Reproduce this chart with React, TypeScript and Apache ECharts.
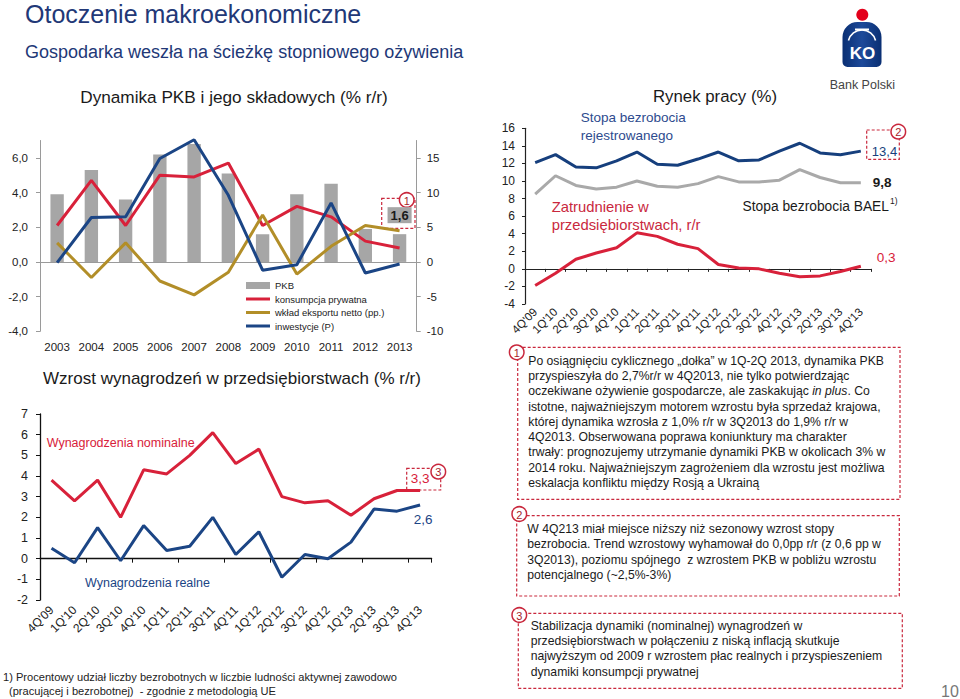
import React, { useEffect, useRef } from 'react';
import * as echarts from 'echarts';

// ---------- DATA ----------
const years = ['2003', '2004', '2005', '2006', '2007', '2008', '2009', '2010', '2011', '2012', '2013'];
const gdp = [3.9, 5.3, 3.6, 6.2, 6.8, 5.1, 1.6, 3.9, 4.5, 1.9, 1.6];
const consumption = [2.1, 4.7, 2.1, 5.0, 4.9, 5.7, 2.1, 3.2, 2.6, 1.2, 0.8];
const netExports = [1.1, -0.9, 1.1, -1.1, -1.9, -0.6, 2.7, -0.7, 0.9, 2.1, 1.8];
const investment = [-0.1, 6.4, 6.5, 14.9, 17.6, 9.6, -1.2, -0.4, 8.5, -1.6, -0.3];

const quarters = ["4Q'09", "1Q'10", "2Q'10", "3Q'10", "4Q'10", "1Q'11", "2Q'11", "3Q'11", "4Q'11", "1Q'12", "2Q'12", "3Q'12", "4Q'12", "1Q'13", "2Q'13", "3Q'13", "4Q'13"];
const wagesNominal = [3.8, 2.8, 3.8, 2.0, 4.3, 4.1, 5.0, 6.1, 4.6, 5.3, 3.0, 2.7, 2.8, 2.1, 2.9, 3.3, 3.3];
const wagesReal = [0.5, -0.2, 1.5, -0.1, 1.6, 0.4, 0.6, 2.0, 0.2, 1.3, -0.9, 0.2, 0.0, 0.8, 2.4, 2.3, 2.6];

const unempRegistered = [12.1, 13.0, 11.6, 11.5, 12.3, 13.3, 11.9, 11.8, 12.5, 13.3, 12.3, 12.4, 13.4, 14.3, 13.2, 13.0, 13.4];
const unempBAEL = [8.5, 10.6, 9.5, 9.1, 9.3, 10.0, 9.4, 9.3, 9.7, 10.5, 9.9, 9.9, 10.1, 11.3, 10.4, 9.8, 9.8];
const employment = [-1.9, -0.5, 1.1, 1.8, 2.4, 4.1, 3.7, 2.8, 2.3, 0.5, 0.1, 0.0, -0.5, -0.9, -0.8, -0.3, 0.3];

const box1Lines = [
  'Po osiągnięciu cyklicznego „dołka” w 1Q-2Q 2013, dynamika PKB',
  'przyspieszyła do 2,7%r/r w 4Q2013, nie tylko potwierdzając',
  'oczekiwane ożywienie gospodarcze, ale zaskakując {i|in plus}. Co',
  'istotne, najważniejszym motorem wzrostu była sprzedaż krajowa,',
  'której dynamika wzrosła z 1,0% r/r w 3Q2013 do 1,9% r/r w',
  '4Q2013. Obserwowana poprawa koniunktury ma charakter',
  'trwały: prognozujemy utrzymanie dynamiki PKB w okolicach 3% w',
  '2014 roku. Najważniejszym zagrożeniem dla wzrostu jest możliwa',
  'eskalacja konfliktu między Rosją a Ukrainą',
];
const box2Lines = [
  'W 4Q213 miał miejsce niższy niż sezonowy wzrost stopy',
  'bezrobocia. Trend wzrostowy wyhamował do 0,0pp r/r (z 0,6 pp w',
  '3Q2013), poziomu spójnego  z wzrostem PKB w pobliżu wzrostu',
  'potencjalnego (~2,5%-3%)',
];
const box3Lines = [
  'Stabilizacja dynamiki (nominalnej) wynagrodzeń w',
  'przedsiębiorstwach w połączeniu z niską inflacją skutkuje',
  'najwyższym od 2009 r wzrostem płac realnych i przyspieszeniem',
  'dynamiki konsumpcji prywatnej',
];

// ---------- STYLE ----------
const FONT = '"Liberation Sans", Arial, sans-serif';
const NAVY = '#223877';
const RED = '#d8213a';
const BLUE = '#1b4585';
const GOLD = '#b28e28';
const GREY = '#a6a6a6';
const ANN = '#c9283d';
const TXT = '#1a1a1a';
const LINE_ICON = 'path://M0,0 L24,0 L24,3 L0,3 Z';

const fmt1 = (v: number) => v.toFixed(1).replace('.', ',');

const lastLabel = (arr: number[], label: any) =>
  arr.map((v, i) => (i === arr.length - 1 ? { value: v, label: { show: true, ...label } } : v));

const text = (x: number, y: number, t: string, o: any = {}) => ({
  type: 'text',
  x,
  y,
  silent: true,
  style: {
    text: t,
    fontFamily: FONT,
    fontSize: 12,
    fill: TXT,
    align: 'left',
    verticalAlign: 'middle',
    ...o,
  },
});

const dashedRect = (x: number, y: number, w: number, h: number) => ({
  type: 'rect',
  silent: true,
  shape: { x, y, width: w, height: h },
  style: { fill: 'none', stroke: ANN, lineWidth: 1.2, lineDash: [3, 2] },
});

const marker = (cx: number, cy: number, n: string) => ({
  type: 'group',
  silent: true,
  children: [
    { type: 'circle', shape: { cx, cy, r: 7.3 }, style: { fill: '#fff', stroke: ANN, lineWidth: 1.5 } },
    text(cx, cy + 0.5, n, { fontSize: 11, fill: '#a51d2d', align: 'center' }),
  ],
});

const BODY = 12.2;
const textBlock = (x: number, yTop: number, lines: string[]) => ({
  type: 'text',
  x,
  y: yTop,
  silent: true,
  style: {
    text: lines.join('\n'),
    fontFamily: FONT,
    fontSize: BODY,
    lineHeight: 15.3,
    fill: TXT,
    align: 'left',
    verticalAlign: 'top',
    rich: {
      i: { fontFamily: FONT, fontSize: BODY, lineHeight: 15.3, fontStyle: 'italic', fill: TXT },
    },
  },
});

const axisLabelBase = { fontFamily: FONT, fontSize: 11.5, color: '#222' };

const labelledLine = (name: string, xi: number, yi: number, color: string, data: any[]) => ({
  name, type: 'line', xAxisIndex: xi, yAxisIndex: yi,
  symbol: 'circle', symbolSize: 0, showSymbol: true, clip: false,
  lineStyle: { color, width: 3 }, itemStyle: { color },
  data,
});

function buildOption(): any {
  return {
    animation: false,
    backgroundColor: '#ffffff',
    textStyle: { fontFamily: FONT },
    grid: [
      { left: 40, top: 140.5, width: 376.7, height: 190.8 },
      { left: 40, top: 414, width: 391.6, height: 186 },
      { left: 525, top: 128.3, width: 346, height: 175.7 },
    ],
    legend: {
      left: 246,
      top: 279.5,
      padding: 0,
      orient: 'vertical',
      itemWidth: 24,
      itemHeight: 7,
      itemGap: 1.5,
      selectedMode: false,
      textStyle: { fontFamily: FONT, fontSize: 9.5, color: '#222', lineHeight: 12 },
      data: [
        { name: 'PKB', icon: 'rect' },
        { name: 'konsumpcja prywatna', icon: LINE_ICON },
        { name: 'wkład eksportu netto (pp.)', icon: LINE_ICON },
        { name: 'inwestycje (P)', icon: LINE_ICON },
      ],
    },
    xAxis: [
      {
        type: 'category', gridIndex: 0, data: years, position: 'bottom',
        axisLine: { show: false, onZero: false }, axisTick: { show: false },
        axisLabel: { ...axisLabelBase, margin: 10, interval: 0 },
      },
      {
        type: 'category', gridIndex: 0, data: years, position: 'top',
        axisLine: { show: true, onZero: true, lineStyle: { color: '#9a9a9a', width: 1 } },
        axisTick: { show: false }, axisLabel: { show: false },
      },
      {
        type: 'category', gridIndex: 1, data: quarters, position: 'bottom',
        axisLine: { show: false, onZero: false }, axisTick: { show: false },
        axisLabel: { ...axisLabelBase, fontSize: 12, rotate: 45, margin: 8, interval: 0 },
      },
      {
        type: 'category', gridIndex: 1, data: quarters, position: 'top',
        axisLine: { show: true, onZero: true, lineStyle: { color: '#111', width: 1.3 } },
        axisTick: { show: true, inside: true, length: 4, lineStyle: { color: '#111' } },
        axisLabel: { show: false },
      },
      {
        type: 'category', gridIndex: 2, data: quarters, position: 'bottom',
        axisLine: { show: true, onZero: true, lineStyle: { color: '#222', width: 1.2 } },
        axisTick: { show: true, length: 3, lineStyle: { color: '#222' } },
        axisLabel: { ...axisLabelBase, rotate: 45, margin: 6, interval: 0 },
      },
    ],
    yAxis: [
      {
        type: 'value', gridIndex: 0, min: -4, max: 7, interval: 2, position: 'left',
        axisLine: { show: true, lineStyle: { color: '#9a9a9a' } },
        axisTick: { show: true, length: 4, lineStyle: { color: '#9a9a9a' } },
        splitLine: { show: false },
        axisLabel: { ...axisLabelBase, margin: 12, showMaxLabel: false, formatter: (v: number) => fmt1(v) },
      },
      {
        type: 'value', gridIndex: 0, min: -10, max: 17.5, interval: 5, position: 'right',
        axisLine: { show: true, lineStyle: { color: '#9a9a9a' } },
        axisTick: { show: true, length: 4, lineStyle: { color: '#9a9a9a' } },
        splitLine: { show: false },
        axisLabel: { ...axisLabelBase, margin: 10, showMaxLabel: false, formatter: (v: number) => String(v) },
      },
      {
        type: 'value', gridIndex: 1, min: -2, max: 7, interval: 1,
        axisLine: { show: true, lineStyle: { color: '#111', width: 1.3 } },
        axisTick: { show: true, length: 4, lineStyle: { color: '#111' } },
        splitLine: { show: false },
        axisLabel: { ...axisLabelBase, fontSize: 12.5, margin: 12 },
      },
      {
        type: 'value', gridIndex: 2, min: -4, max: 16, interval: 2,
        axisLine: { show: true, lineStyle: { color: '#222', width: 1.2 } },
        axisTick: { show: true, length: 3, lineStyle: { color: '#222' } },
        splitLine: { show: false },
        axisLabel: { ...axisLabelBase, fontSize: 12, margin: 10 },
      },
    ],
    series: [
      {
        name: 'PKB', type: 'bar', xAxisIndex: 0, yAxisIndex: 0, barWidth: '39%',
        itemStyle: { color: GREY },
        data: lastLabel(gdp, {
          position: 'top', distance: 11, formatter: (p: any) => fmt1(p.value),
          fontFamily: FONT, fontSize: 13, fontWeight: 'bold', color: TXT,
          backgroundColor: GREY, padding: [2, 3, 1, 3],
        }),
      },
      {
        name: 'konsumpcja prywatna', type: 'line', xAxisIndex: 0, yAxisIndex: 0,
        symbol: 'none', clip: false, lineStyle: { color: RED, width: 3 }, itemStyle: { color: RED },
        data: consumption,
      },
      {
        name: 'wkład eksportu netto (pp.)', type: 'line', xAxisIndex: 0, yAxisIndex: 0,
        symbol: 'none', clip: false, lineStyle: { color: GOLD, width: 3 }, itemStyle: { color: GOLD },
        data: netExports,
      },
      {
        name: 'inwestycje (P)', type: 'line', xAxisIndex: 0, yAxisIndex: 1,
        symbol: 'none', clip: false, lineStyle: { color: BLUE, width: 3 }, itemStyle: { color: BLUE },
        data: investment,
      },
      labelledLine('Wynagrodzenia nominalne', 2, 2, RED, lastLabel(wagesNominal, {
        position: 'top', distance: 5, formatter: (p: any) => fmt1(p.value),
        fontFamily: FONT, fontSize: 13.5, color: RED,
      })),
      labelledLine('Wynagrodzenia realne', 2, 2, BLUE, lastLabel(wagesReal, {
        position: 'bottom', distance: 8, offset: [3, 0], formatter: (p: any) => fmt1(p.value),
        fontFamily: FONT, fontSize: 13.5, color: BLUE,
      })),
      labelledLine('Stopa bezrobocia BAEL', 4, 3, '#a9a9a9', lastLabel(unempBAEL, {
        position: 'right', distance: 12, formatter: (p: any) => fmt1(p.value),
        fontFamily: FONT, fontSize: 13.5, fontWeight: 'bold', color: TXT,
      })),
      labelledLine('Stopa bezrobocia rejestrowanego', 4, 3, '#163f7d', lastLabel(unempRegistered, {
        position: 'right', distance: 11, formatter: (p: any) => fmt1(p.value),
        fontFamily: FONT, fontSize: 13, color: '#163f7d',
      })),
      labelledLine('Zatrudnienie w przedsiębiorstwach', 4, 3, RED, lastLabel(employment, {
        position: 'right', distance: 16, offset: [0, -9], formatter: (p: any) => fmt1(p.value),
        fontFamily: FONT, fontSize: 13.5, color: RED,
      })),
    ],
    graphic: [
      // headers
      text(25, 14, 'Otoczenie makroekonomiczne', { fontSize: 25, fill: NAVY }),
      text(25, 52, 'Gospodarka weszła na ścieżkę stopniowego ożywienia', { fontSize: 18, fill: NAVY }),
      text(234, 97, 'Dynamika PKB i jego składowych (% r/r)', { fontSize: 17.2, align: 'center' }),
      text(232, 378, 'Wzrost wynagrodzeń w przedsiębiorstwach (% r/r)', { fontSize: 17, align: 'center' }),
      text(715, 96, 'Rynek pracy (%)', { fontSize: 16.8, align: 'center' }),

      // wages series names
      text(46.7, 442.7, 'Wynagrodzenia nominalne', { fontSize: 12.5, fill: RED }),
      text(85, 582.7, 'Wynagrodzenia realne', { fontSize: 12.5, fill: BLUE }),

      // labour market series names
      text(580.7, 117, 'Stopa bezrobocia', { fontSize: 13.5, fill: '#2d4b8e' }),
      text(580.7, 135, 'rejestrowanego', { fontSize: 13.5, fill: '#2d4b8e' }),
      text(551.7, 207, 'Zatrudnienie w', { fontSize: 14.8, fill: ANN }),
      text(551.7, 224.5, 'przedsiębiorstwach, r/r', { fontSize: 14.8, fill: ANN }),
      text(889, 206, 'Stopa bezrobocia BAEL', { fontSize: 13.8, align: 'right' }),
      text(890, 201, '1)', { fontSize: 8.5 }),

      // annotation boxes & markers on charts
      dashedRect(381.7, 198.3, 33.3, 30),
      marker(406.7, 200, '1'),
      dashedRect(406.7, 468.3, 34, 21.7),
      marker(438.3, 471.7, '3'),
      dashedRect(866.7, 130, 32.6, 29.3),
      marker(898.3, 131.7, '2'),

      // text boxes
      dashedRect(517.7, 347.3, 382.3, 152),
      textBlock(528.3, 353, box1Lines),
      marker(516.7, 352.3, '1'),
      dashedRect(516.7, 515.7, 382.6, 80.3),
      textBlock(527.3, 521.4, box2Lines),
      marker(519.3, 514, '2'),
      dashedRect(518.3, 613.3, 384, 75),
      textBlock(530.7, 618, box3Lines),
      marker(519.3, 615, '3'),

      // footnote
      text(3, 677, '1) Procentowy udział liczby bezrobotnych w liczbie ludności aktywnej zawodowo', { fontSize: 11.1, fill: '#222' }),
      text(9, 690.5, '(pracującej i bezrobotnej)  - zgodnie z metodologią UE', { fontSize: 11.1, fill: '#222' }),

      // page number
      text(950, 691.5, '10', { fontSize: 16, fill: '#777', align: 'center' }),

      // logo
      {
        type: 'group',
        silent: true,
        children: [
          { type: 'circle', shape: { cx: 862.3, cy: 14.7, r: 6 }, style: { fill: '#e3001b' } },
          {
            type: 'rect',
            shape: { x: 842.5, y: 22, width: 39, height: 45, r: [15, 15, 5, 5] },
            style: {
              fill: new echarts.graphic.LinearGradient(0, 0, 1, 0, [
                { offset: 0, color: '#0a2f73' },
                { offset: 0.5, color: '#1d4a9a' },
                { offset: 1, color: '#0a2f73' },
              ]),
            },
          },
          { type: 'rect', shape: { x: 855, y: 28.5, width: 14, height: 2 }, style: { fill: '#ffffff' } },
          {
            type: 'arc',
            shape: { cx: 862, cy: 44, r: 14, startAngle: Math.PI * 1.08, endAngle: Math.PI * 1.92 },
            style: { stroke: '#ffffff', lineWidth: 1.6, fill: 'none' },
          },
          text(862.5, 53, 'KO', { fontSize: 17, fontWeight: 'bold', fill: '#ffffff', align: 'center' }),
          text(862.3, 85, 'Bank Polski', { fontSize: 12.5, fill: '#444', align: 'center' }),
        ],
      },
    ],
  };
}

export default function App() {
  const ref = useRef<HTMLDivElement>(null);
  useEffect(() => {
    if (!ref.current) return;
    const chart = echarts.init(ref.current, null, { renderer: 'svg' });
    chart.setOption(buildOption());
    return () => chart.dispose();
  }, []);
  return (
    <div
      ref={ref}
      style={{ position: 'fixed', left: 0, top: 0, width: 960, height: 699, background: '#fff' }}
    />
  );
}
